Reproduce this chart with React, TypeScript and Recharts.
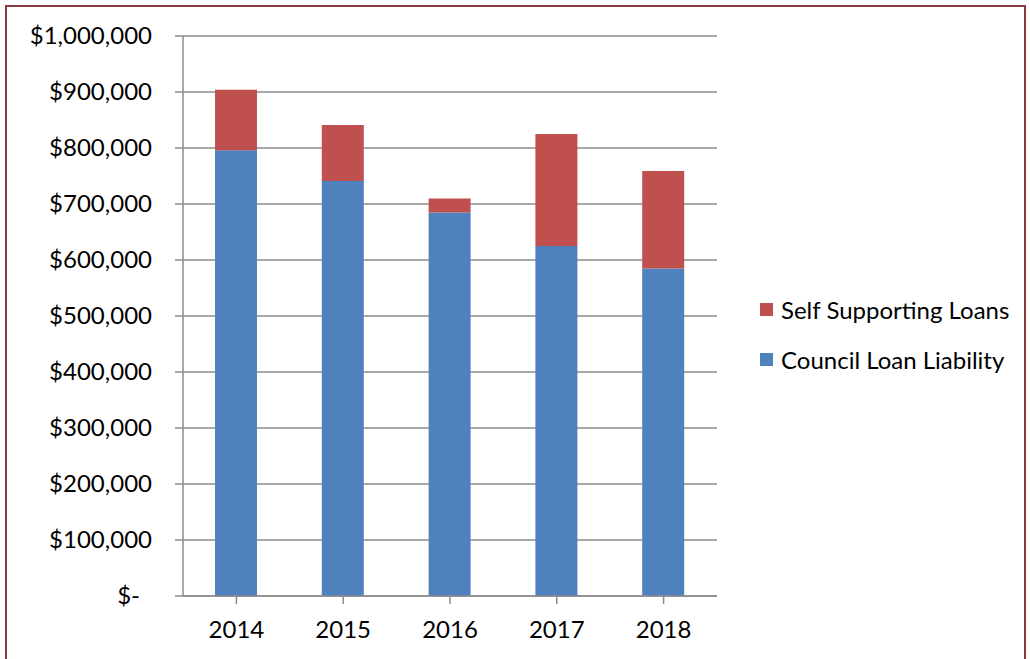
import React from 'react';
import { BarChart, Bar, XAxis, YAxis, CartesianGrid, Legend } from 'recharts';

const years = ['2014', '2015', '2016', '2017', '2018'];
const councilLoanLiability = [796000, 741000, 685000, 625000, 585000];
const selfSupportingLoans = [108000, 100000, 25000, 200000, 174000];
const yTicks = [0, 100000, 200000, 300000, 400000, 500000, 600000, 700000, 800000, 900000, 1000000];

const data = years.map((y, i) => ({
  year: y,
  council: councilLoanLiability[i],
  self: selfSupportingLoans[i],
}));

const FONT = 'Lato, "Open Sans", sans-serif';
const BLUE = '#4F81BD';
const RED = '#C0504D';
const GRID = '#8c8c8c';

const YTick = (props: any) => {
  const { x, y, payload } = props;
  const v = payload.value as number;
  const label = v === 0 ? '$-' : '$' + v.toLocaleString('en-US');
  return (
    <text x={v === 0 ? x - 12 : x} y={y} dy="0.35em" textAnchor="end" fontSize={24} fontFamily={FONT} fill="#000">
      {label}
    </text>
  );
};

const LegendContent = () => {
  const items = [
    { name: 'Self Supporting Loans', color: RED },
    { name: 'Council Loan Liability', color: BLUE },
  ];
  return (
    <div style={{ fontFamily: FONT, fontSize: 24, color: '#000' }}>
      {items.map((it, i) => (
        <div key={it.name} style={{ display: 'flex', alignItems: 'center', height: 30, marginBottom: i === 0 ? 20 : 0, whiteSpace: 'nowrap' }}>
          <span style={{ display: 'inline-block', width: 13, height: 13, background: it.color, marginRight: 8 }} />
          <span>{it.name}</span>
        </div>
      ))}
    </div>
  );
};

export default function App() {
  return (
    <div style={{ position: 'absolute', left: 0, top: 0, width: 1030, height: 659, overflow: 'hidden', background: '#fff' }}>
      <div style={{ position: 'absolute', left: 5, top: 5, width: 1021, height: 670, border: '2px solid #843C3C', boxSizing: 'border-box' }} />
      <div style={{ position: 'absolute', left: 0, top: 0 }}>
        <BarChart
          width={1030}
          height={659}
          data={data}
          margin={{ top: 36, right: 313, bottom: 13, left: 83 }}
        >
          <CartesianGrid vertical={false} stroke={GRID} strokeWidth={1.5} />
          <XAxis
            dataKey="year"
            height={50}
            tickSize={8}
            tickMargin={17}
            stroke={GRID}
            strokeWidth={1.5}
            tick={{ fontSize: 24, fontFamily: FONT, fill: '#000' }}
          />
          <YAxis
            width={100}
            domain={[0, 1000000]}
            ticks={yTicks}
            interval={0}
            tickSize={8}
            tickMargin={23}
            stroke={GRID}
            strokeWidth={1.5}
            tick={<YTick />}
          />
          <Legend
            layout="vertical"
            align="center"
            verticalAlign="middle"
            content={<LegendContent />}
            wrapperStyle={{ left: 760, top: 294, width: 270 }}
          />
          <Bar dataKey="council" stackId="a" fill={BLUE} barSize={42} isAnimationActive={false} />
          <Bar dataKey="self" stackId="a" fill={RED} barSize={42} isAnimationActive={false} />
        </BarChart>
      </div>
    </div>
  );
}
